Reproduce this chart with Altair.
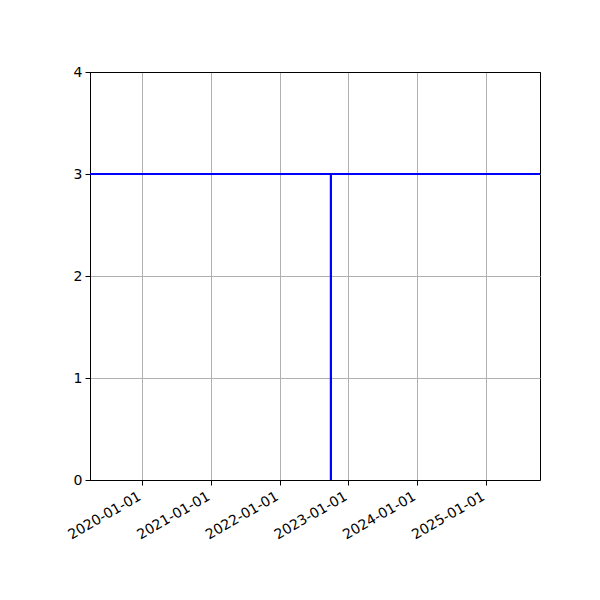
import altair as alt
import pandas as pd

# data
hline_y = [3]
vline_dates = ["2022-10-01"]
vline_bottom = [0]
vline_top = [3]
tick_years = [2020, 2021, 2022, 2023, 2024, 2025]
x_domain = [(2019, 3, 30), (2025, 10, 17)]
y_ticks = [0, 1, 2, 3, 4]

hdf = pd.DataFrame({"y": hline_y})
vdf = pd.DataFrame({"date": vline_dates, "y0": vline_bottom, "y1": vline_top})

def dt(y, m=1, d=1):
    return alt.DateTime(year=y, month=m, date=d, utc=True)

x_scale = alt.Scale(type="utc", domain=[dt(*x_domain[0]), dt(*x_domain[1])])
y_scale = alt.Scale(domain=[0, 4], nice=False)

x_axis = alt.Axis(
    values=[dt(y) for y in tick_years],
    labelExpr="utcFormat(datum.value, '%Y-%m-%d')",
    labelAngle=-30, labelAlign="right", labelBaseline="top", title=None,
    labelOverlap=False, labelOffset=-6,
    grid=True, gridColor="#b0b0b0", gridWidth=1,
    domain=True, domainColor="black", domainWidth=1,
    tickColor="black", tickSize=5, labelFontSize=14, labelColor="black",
    labelFont="DejaVu Sans", labelPadding=4,
)
y_axis = alt.Axis(
    values=y_ticks, labelExpr="format(datum.value, 'd')", title=None,
    labelOverlap=False,
    grid=True,
    gridColor={"condition": {"test": "datum.value == 4", "value": "black"}, "value": "#b0b0b0"},
    gridWidth=1,
    domain=True, domainColor="black", domainWidth=1,
    tickColor="black", tickSize=5, labelFontSize=14,
    labelColor="black", labelFont="DejaVu Sans", labelPadding=3,
)

vline = alt.Chart(vdf).mark_rule(color="blue", strokeWidth=2.2).encode(
    x=alt.X("date:T", scale=x_scale, axis=x_axis),
    y=alt.Y("y0:Q", scale=y_scale, axis=y_axis),
    y2="y1:Q",
)
hline = alt.Chart(hdf).mark_rule(color="blue", strokeWidth=2).encode(
    y=alt.Y("y:Q", scale=y_scale, axis=y_axis),
)

chart = alt.layer(vline, hline).properties(
    width=450, height=408, background="white",
    autosize=alt.AutoSizeParams(type="none"),
    padding={"left": 82, "top": 64, "right": 52, "bottom": 112},
).configure_view(stroke="black", strokeWidth=1)

chart.save("out.html", embed_options={"renderer": "svg", "actions": False})
